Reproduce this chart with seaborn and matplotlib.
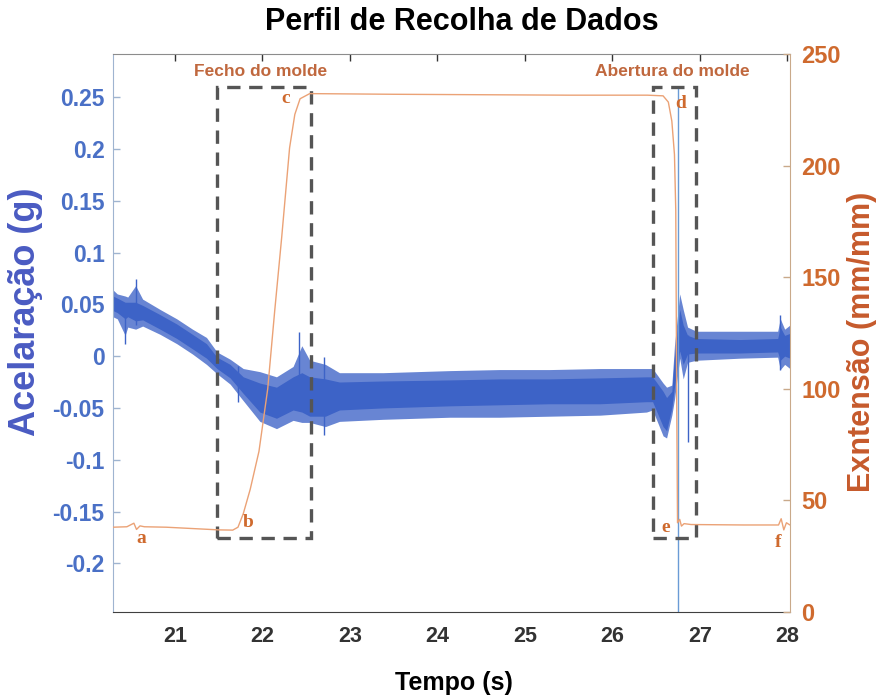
import numpy as np
import pandas as pd
import matplotlib
matplotlib.use('Agg')
import matplotlib.pyplot as plt
import seaborn as sns
from matplotlib.patches import Rectangle

# Aceleração (g): envelope externo (picos) da banda de ruído
acc_t = [20.29, 20.34, 20.43, 20.46, 20.55, 20.63, 20.83, 21.02, 21.20, 21.36,
         21.48, 21.63, 21.78, 21.97, 22.16, 22.35, 22.45, 22.54, 22.72, 22.88,
         23.38, 24.14, 24.71, 25.28, 25.86, 26.39, 26.46, 26.58, 26.62, 26.68,
         26.71, 26.77, 26.81, 26.86, 26.96, 27.46, 27.89, 27.92, 27.97, 28.03]
acc_hi = [0.064, 0.060, 0.058, 0.057, 0.068, 0.055, 0.045, 0.036, 0.026, 0.018,
          0.004, -0.003, -0.012, -0.015, -0.020, -0.010, 0.010, -0.004, -0.008, -0.016,
          -0.016, -0.014, -0.013, -0.013, -0.012, -0.012, -0.012, -0.026, -0.030, -0.028,
          0.010, 0.060, 0.045, 0.028, 0.024, 0.024, 0.024, 0.036, 0.026, 0.030]
acc_lo = [0.038, 0.036, 0.020, 0.028, 0.026, 0.029, 0.021, 0.012, 0.002, -0.008,
          -0.017, -0.027, -0.043, -0.063, -0.070, -0.062, -0.064, -0.064, -0.068, -0.063,
          -0.061, -0.059, -0.059, -0.058, -0.057, -0.054, -0.052, -0.077, -0.079, -0.057,
          -0.042, -0.002, -0.022, -0.006, -0.004, -0.002, -0.001, -0.013, -0.008, -0.012]

# núcleo denso da banda
core_hi = [0.058, 0.056, 0.052, 0.052, 0.052, 0.049, 0.040, 0.031, 0.021, 0.012,
           -0.001, -0.008, -0.020, -0.026, -0.030, -0.020, -0.016, -0.020, -0.022, -0.025,
           -0.024, -0.023, -0.022, -0.022, -0.021, -0.020, -0.020, -0.034, -0.040, -0.034,
           0.000, 0.045, 0.030, 0.020, 0.017, 0.016, 0.017, 0.028, 0.020, 0.022]
core_lo = [0.044, 0.042, 0.036, 0.038, 0.034, 0.035, 0.026, 0.017, 0.007, -0.002,
           -0.012, -0.021, -0.036, -0.054, -0.060, -0.052, -0.054, -0.058, -0.058, -0.052,
           -0.050, -0.048, -0.047, -0.046, -0.046, -0.044, -0.044, -0.068, -0.072, -0.050,
           -0.030, 0.005, -0.008, 0.002, 0.003, 0.003, 0.004, -0.004, 0.000, -0.002]

# picos isolados da aceleração
spike_t = [20.43, 20.55, 21.72, 22.42, 22.70, 26.86, 27.92]
spike_hi = [0.045, 0.074, -0.010, 0.023, -0.001, 0.020, 0.040]
spike_lo = [0.012, 0.030, -0.044, -0.020, -0.076, -0.083, -0.013]
# pico principal na abertura (sai da escala)
peak_t = [26.75, 26.75]
peak_g = [0.260, -0.300]

# Extensão (mm/mm)
ext_t = [20.29, 20.45, 20.53, 20.56, 20.60, 20.65, 20.90, 21.30, 21.50, 21.66,
         21.72, 21.78, 21.86, 21.96, 22.06, 22.14, 22.22, 22.31, 22.37, 22.43,
         22.54, 23.50, 24.50, 25.50, 26.40, 26.58, 26.64, 26.68, 26.71, 26.725,
         26.735, 26.745, 26.77, 26.79, 26.82, 26.90, 27.50, 27.90, 27.93, 27.96,
         27.99, 28.03]
ext_v = [38.0, 38.2, 39.8, 37.0, 38.6, 38.2, 38.0, 37.2, 36.8, 36.7,
         38.0, 44.0, 55.0, 72.0, 100.0, 135.0, 168.0, 208.0, 223.0, 230.0,
         232.3, 232.0, 231.8, 231.6, 231.6, 231.3, 228.5, 220.0, 205.0, 180.0,
         100.0, 40.0, 41.5, 38.5, 39.6, 39.2, 39.0, 39.0, 41.8, 36.8,
         40.0, 39.0]

x_ticks = [21, 22, 23, 24, 25, 26, 27, 28]
acc_ticks = [-0.2, -0.15, -0.1, -0.05, 0, 0.05, 0.1, 0.15, 0.2, 0.25]
acc_tick_labels = ['-0.2', '-0.15', '-0.1', '-0.05', '0', '0.05', '0.1', '0.15', '0.2', '0.25']
ext_ticks = [0, 50, 100, 150, 200, 250]

# caixas tracejadas (fases) e etiquetas
phase_names = ['Fecho do molde', 'Abertura do molde']
phase_t = [(21.48, 22.56), (26.46, 26.96)]
phase_ext = (33.2, 235.2)
phase_label_t = [21.98, 26.69]
point_names = ['a', 'b', 'c', 'd', 'e', 'f']
point_t = [20.61, 21.84, 22.27, 26.78, 26.61, 27.89]
point_ext = [33.0, 40.0, 230.0, 228.0, 38.0, 31.0]

blue = '#3d63c7'
blue_light = '#6a9bd6'
blue_txt = '#4a70c6'
blue_lab = '#4a5bc2'
orange = '#eba276'
orange_txt = '#cf6a2e'
orange_lab = '#c65a2c'

sns.set_style('white')
plt.rcParams['font.family'] = ['Liberation Sans', 'DejaVu Sans']
plt.rcParams['font.weight'] = 'bold'

fig = plt.figure(figsize=(8.82, 7.0), dpi=100)
ax = fig.add_axes([0.128, 0.1257, 0.7676, 0.797])
ax2 = ax.twinx()

# aceleração
ax.fill_between(acc_t, acc_lo, acc_hi, color=blue, alpha=0.78, linewidth=0)
ax.fill_between(acc_t, core_lo, core_hi, color=blue, linewidth=0)
ax.vlines(spike_t, spike_lo, spike_hi, color=blue, linewidth=1.0)
sns.lineplot(x=peak_t, y=peak_g, ax=ax, color=blue_light, linewidth=1.0,
             sort=False, estimator=None)

# extensão
sns.lineplot(x=ext_t, y=ext_v, ax=ax2, color=orange, linewidth=1.0,
             sort=False, estimator=None)

for (t0, t1), name, lt in zip(phase_t, phase_names, phase_label_t):
    ax2.add_patch(Rectangle((t0, phase_ext[0]), t1 - t0, phase_ext[1] - phase_ext[0],
                            fill=False, edgecolor='#555555', linewidth=2.4,
                            linestyle=(0, (4, 2.6))))
    ax2.text(lt, 242.4, name, color='#c0683e', fontsize=12.5, ha='center', va='center')

for name, t, e in zip(point_names, point_t, point_ext):
    ax2.text(t, e, name, color=orange_txt, fontsize=14, ha='center', va='center',
             family='Liberation Serif', fontweight='bold')

ax.set_xlim(20.29, 28.03)
ax.set_ylim(-0.247, 0.2915)
ax2.set_ylim(0, 250)
ax.set_xticks(x_ticks)
ax.set_xticklabels([str(v) for v in x_ticks])
ax.set_yticks(acc_ticks)
ax.set_yticklabels(acc_tick_labels)
ax2.set_yticks(ext_ticks)
ax.set_xlabel('')
ax.set_ylabel('')
ax2.set_xlabel('')
ax2.set_ylabel('')

ax.tick_params(axis='x', direction='in', top=True, length=5, width=1,
               colors='#333333', labelsize=15.5, pad=10)
ax.tick_params(axis='y', direction='in', length=5, width=1,
               colors='#9fb4d0', labelcolor=blue_txt, labelsize=16.5, pad=6)
ax2.tick_params(axis='y', direction='in', length=5, width=1,
                colors='#c9a98a', labelcolor=orange_txt, labelsize=17, pad=8)

for s in ['left', 'top', 'bottom']:
    ax2.spines[s].set_visible(False)
ax.spines['right'].set_visible(False)
ax.spines['left'].set_color('#9fb4d0')
ax.spines['top'].set_color('#8c8c8c')
ax.spines['bottom'].set_color('#404040')
ax2.spines['right'].set_color('#c9a98a')

fig.text(462 / 882, 1 - 22 / 700, 'Perfil de Recolha de Dados', fontsize=22,
         ha='center', va='center', color='black')
fig.text(454 / 882, 1 - 683 / 700, 'Tempo (s)', fontsize=18,
         ha='center', va='center', color='black')
fig.text(26 / 882, 1 - 312 / 700, 'Acelaração (g)', fontsize=26, rotation=90,
         ha='center', va='center', color=blue_lab)
fig.text(862 / 882, 1 - 342 / 700, 'Exntensão (mm/mm)', fontsize=22, rotation=90,
         ha='center', va='center', color=orange_lab)

fig.savefig('out.png', dpi=100)
